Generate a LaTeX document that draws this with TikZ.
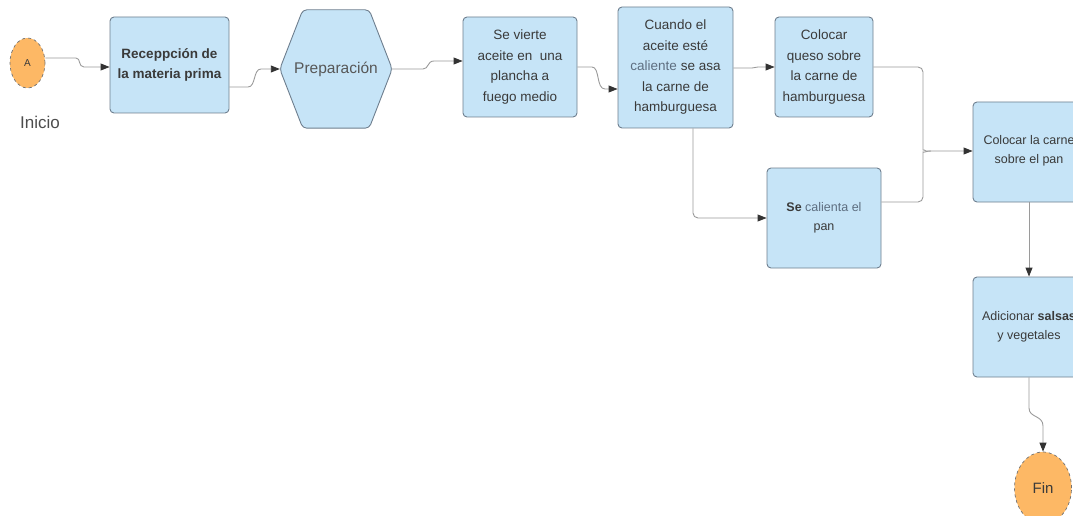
\documentclass[tikz,border=0pt]{standalone}
\usepackage{fontspec}
\setmainfont{Liberation Sans}
\usetikzlibrary{arrows.meta,shapes.geometric}
\definecolor{boxfill}{HTML}{C6E4F7}
\definecolor{boxline}{HTML}{6E7E8E}
\definecolor{orfill}{HTML}{FDB865}
\definecolor{txt}{HTML}{3A3A3A}
\definecolor{lighttxt}{HTML}{5E6E80}
\definecolor{conncol}{HTML}{9A9A9A}
\tikzset{
  box/.style={rectangle, rounded corners=4, draw=boxline, line width=0.9, fill=boxfill,
    text=txt, align=center, inner sep=0},
  oval/.style={ellipse, draw=black!55, dashed, line width=0.7, fill=orfill, text=txt, inner sep=0},
  conn/.style={draw=conncol, line width=0.9},
  arr/.style={conn, -{Triangle[length=9,width=7,color=black!80]}},
  body/.style={font=\fontsize{13.5}{20.5}\selectfont},
  small/.style={font=\fontsize{12.5}{19}\selectfont}
}
\begin{document}
\begin{tikzpicture}[x=1pt,y=-1pt]
\useasboundingbox (0,0) rectangle (1073,516);
\clip (0,0) rectangle (1073,516);
% nodes
\node[oval, minimum width=35, minimum height=50, font=\fontsize{10}{12}\selectfont] (A) at (27.5,63) {A};
\node[text=black!70, font=\fontsize{17}{20}\selectfont] (ini) at (40,122) {Inicio};
\node[box, minimum width=119, minimum height=96, font=\bfseries\fontsize{13.5}{20}\selectfont] (rec) at (169.5,65) {Receppción de\\la materia prima};
\node[minimum width=112, minimum height=118, inner sep=0] (prep) at (336,69) {};
\draw[fill=boxfill, draw=boxline, line width=0.9, rounded corners=4]
  (prep.west) -- ([xshift=23]prep.north west) -- ([xshift=-23]prep.north east) -- (prep.east)
  -- ([xshift=-23]prep.south east) -- ([xshift=23]prep.south west) -- cycle;
\node[text=txt!85, font=\fontsize{15.5}{18}\selectfont] at (prep.center) {Preparación};
\node[box, body, minimum width=114, minimum height=100] (vierte) at (520,67) {Se vierte\\aceite en\ \ una\\plancha a\\fuego medio};
\node[box, body, minimum width=115, minimum height=121] (cuando) at (675.5,67.5) {Cuando el\\aceite esté\\\textcolor{lighttxt}{caliente} se asa\\la carne de\\hamburguesa};
\node[box, body, minimum width=98, minimum height=100] (queso) at (824,67) {Colocar\\queso sobre\\la carne de\\hamburguesa};
\node[box, small, minimum width=114, minimum height=100] (calienta) at (824,218) {\textbf{Se} \textcolor{lighttxt}{calienta el}\\pan};
\node[box, small, minimum width=112, minimum height=100, text depth=6] (carne) at (1029,152) {Colocar la carne\\sobre el pan};
\node[box, small, minimum width=112, minimum height=100] (adic) at (1029,327) {Adicionar \textbf{salsas}\\y vegetales};
\node[oval, minimum width=57, minimum height=72, font=\fontsize{15}{18}\selectfont] (fin) at (1043,488) {Fin};
% connectors
\draw[arr] ([yshift=5]A.east) -- (76,58) .. controls (81,58) and (78,67) .. (84,67) -- ([yshift=-2]rec.west);
\draw[arr] ([yshift=-22]rec.east) -- (248,87) .. controls (256,87) and (253,69) .. (261,69) -- (prep.west);
\draw[arr] (prep.east) -- (423,69) .. controls (429,69) and (427,61) .. (434,61) -- ([yshift=6]vierte.west);
\draw[arr] ([yshift=0]vierte.east) -- (592,67) .. controls (600,67) and (596,89) .. (605,89) -- ([yshift=-21.5]cuando.west);
\draw[arr] ([yshift=-0.5]cuando.east) -- (752,68) .. controls (755,68) and (755,67) .. (758,67) -- (queso.west);
\draw[arr, rounded corners=5] (queso.east) -| (923,145) .. controls (923,149) and (926,151) .. (931,151) -- ([yshift=1]carne.west);
\draw[conn, rounded corners=5] ([yshift=16]calienta.east) -| (923,157) .. controls (923,153) and (926,151) .. (931,151);
\draw[arr, rounded corners=5] ([xshift=17.5]cuando.south) |- (calienta.west);
\draw[arr] (carne.south) -- (adic.north);
\draw[arr] (adic.south) -- (1029,408) .. controls (1029,418) and (1043,415) .. (1043,426) -- (fin.north);
\end{tikzpicture}
\end{document}
